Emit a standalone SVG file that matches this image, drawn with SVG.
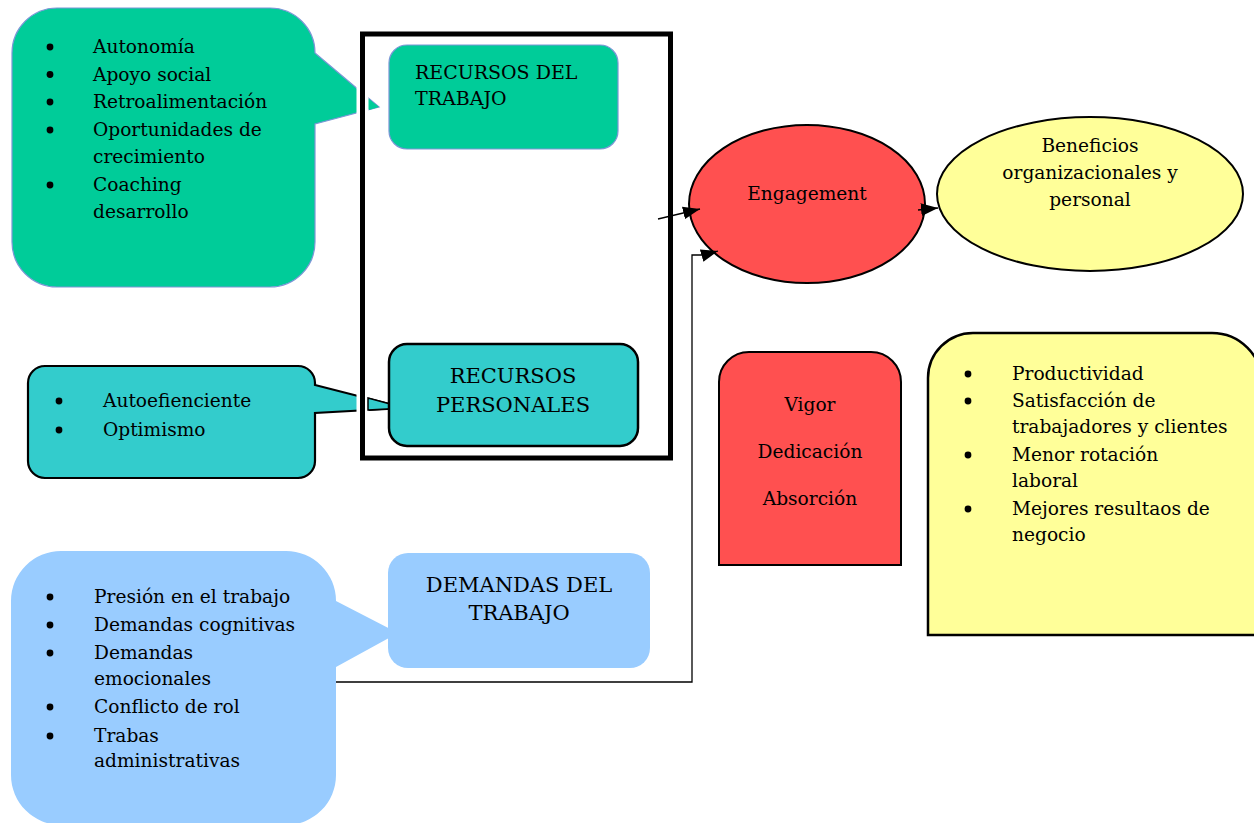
<svg xmlns="http://www.w3.org/2000/svg" width="1254" height="823" viewBox="0 0 1254 823">
<style>
text{font-family:"DejaVu Serif","Liberation Serif",serif;fill:#000;}
.b{font-size:18.6px;}
.h{font-size:19px;}
.c{text-anchor:middle;}
.conn{fill:none;stroke:#000;stroke-width:1.3;}
.dot{fill:#000;}
</style>
<defs>
<marker id="ah" viewBox="0 0 16 12" refX="16" refY="6" markerWidth="17" markerHeight="13" markerUnits="userSpaceOnUse" orient="auto">
<path d="M0,0 L16,6 L0,12 Z" fill="#000"/>
</marker>
</defs>
<rect width="1254" height="823" fill="#fff"/>

<g id="callout-recursos-trabajo">
<path d="M57,8 H270 A45,45 0 0 1 315,53 L379,107 L315,124 V242 A45,45 0 0 1 270,287 H57 A45,45 0 0 1 12,242 V53 A45,45 0 0 1 57,8 Z" fill="#00CC99" stroke="#7B96D6" stroke-width="1.2"/>
<g class="b">
<circle class="dot" cx="50" cy="47" r="3.4"/><text x="93" y="53">Autonomía</text>
<circle class="dot" cx="50" cy="74.5" r="3.4"/><text x="93" y="80.5">Apoyo social</text>
<circle class="dot" cx="50" cy="102" r="3.4"/><text x="93" y="108">Retroalimentación</text>
<circle class="dot" cx="50" cy="130" r="3.4"/><text x="93" y="136">Oportunidades de</text>
<text x="93" y="163">crecimiento</text>
<circle class="dot" cx="50" cy="185" r="3.4"/><text x="93" y="191">Coaching</text>
<text x="93" y="218">desarrollo</text>
</g>
</g>

<g id="callout-recursos-personales">
<path d="M45,366 H298 A17,17 0 0 1 315,383 V385 L405,408 L315,413 V461 A17,17 0 0 1 298,478 H45 A17,17 0 0 1 28,461 V383 A17,17 0 0 1 45,366 Z" fill="#33CCCC" stroke="#000" stroke-width="2.2"/>
<g class="b">
<circle class="dot" cx="59" cy="401" r="3.4"/><text x="103" y="407">Autoefienciente</text>
<circle class="dot" cx="59" cy="430" r="3.4"/><text x="103" y="436">Optimismo</text>
</g>
</g>

<g id="callout-demandas">
<path d="M61,551 H286 A50,50 0 0 1 336,601 L398,633 L336,667 V775 A50,50 0 0 1 286,825 H61 A50,50 0 0 1 11,775 V601 A50,50 0 0 1 61,551 Z" fill="#99CCFF"/>
<g class="b">
<circle class="dot" cx="50" cy="597" r="3.4"/><text x="94" y="603">Presión en el trabajo</text>
<circle class="dot" cx="50" cy="625" r="3.4"/><text x="94" y="631">Demandas cognitivas</text>
<circle class="dot" cx="50" cy="653" r="3.4"/><text x="94" y="659">Demandas</text>
<text x="94" y="685">emocionales</text>
<circle class="dot" cx="50" cy="707" r="3.4"/><text x="94" y="713">Conflicto de rol</text>
<circle class="dot" cx="50" cy="736" r="3.4"/><text x="94" y="742">Trabas</text>
<text x="94" y="767">administrativas</text>
</g>
</g>

<g id="recursos-frame">
<line x1="362.5" y1="30" x2="362.5" y2="462" stroke="#fff" stroke-width="12"/>
<rect x="362.5" y="34" width="308" height="424" fill="none" stroke="#000" stroke-width="5"/>
<path d="M369,99 L379,107 L369,110 Z" fill="#00CC99"/>
<path d="M368,398 L405,408 L368,410 Z" fill="#33CCCC" stroke="#000" stroke-width="1.5"/>
</g>

<g id="recursos-trabajo">
<rect x="389" y="45" width="229" height="104" rx="18" fill="#00CC99" stroke="#7B96D6" stroke-width="1.2"/>
<text class="h" x="415" y="79">RECURSOS DEL</text>
<text class="h" x="415" y="105">TRABAJO</text>
</g>

<g id="recursos-personales">
<rect x="389" y="344" width="249" height="102" rx="18" fill="#33CCCC" stroke="#000" stroke-width="2.5"/>
<text class="c" x="513" y="383" font-size="21">RECURSOS</text>
<text class="c" x="513" y="412" font-size="21">PERSONALES</text>
</g>

<g id="demandas-trabajo">
<rect x="388" y="553" width="262" height="115" rx="20" fill="#99CCFF"/>
<text class="c" x="519" y="592" font-size="21">DEMANDAS DEL</text>
<text class="c" x="519" y="620" font-size="21">TRABAJO</text>
</g>

<g id="engagement">
<ellipse cx="807" cy="204" rx="118" ry="79" fill="#FF5050" stroke="#000" stroke-width="2"/>
<text class="c b" x="807" y="200">Engagement</text>
</g>

<g id="beneficios">
<ellipse cx="1090" cy="194" rx="153" ry="77" fill="#FFFF99" stroke="#000" stroke-width="2"/>
<text class="c b" x="1090" y="152">Beneficios</text>
<text class="c b" x="1090" y="179">organizacionales y</text>
<text class="c b" x="1090" y="206">personal</text>
</g>

<g id="dimensiones">
<path d="M719,565 V382 A30,30 0 0 1 749,352 H871 A30,30 0 0 1 901,382 V565 Z" fill="#FF5050" stroke="#000" stroke-width="2"/>
<text class="c b" x="810" y="411">Vigor</text>
<text class="c b" x="810" y="458">Dedicación</text>
<text class="c b" x="810" y="505">Absorción</text>
</g>

<g id="resultados">
<path d="M928,635 V378 A45,45 0 0 1 973,333 H1212 A50,50 0 0 1 1262,383 V635 Z" fill="#FFFF99" stroke="#000" stroke-width="2.5"/>
<g class="b">
<circle class="dot" cx="968" cy="374" r="3.4"/><text x="1012" y="380">Productividad</text>
<circle class="dot" cx="968" cy="401" r="3.4"/><text x="1012" y="407">Satisfacción de</text>
<text x="1012" y="433">trabajadores y clientes</text>
<circle class="dot" cx="968" cy="455" r="3.4"/><text x="1012" y="461">Menor rotación</text>
<text x="1012" y="487">laboral</text>
<circle class="dot" cx="968" cy="509" r="3.4"/><text x="1012" y="515">Mejores resultaos de</text>
<text x="1012" y="541">negocio</text>
</g>
</g>

<g id="connectors">
<path class="conn" d="M658,219 L700,209" marker-end="url(#ah)"/>
<path class="conn" d="M336,682 H692 V255 H704 L718,251" marker-end="url(#ah)"/>
<path class="conn" d="M918,210 L938,208" marker-end="url(#ah)"/>
</g>
</svg>
